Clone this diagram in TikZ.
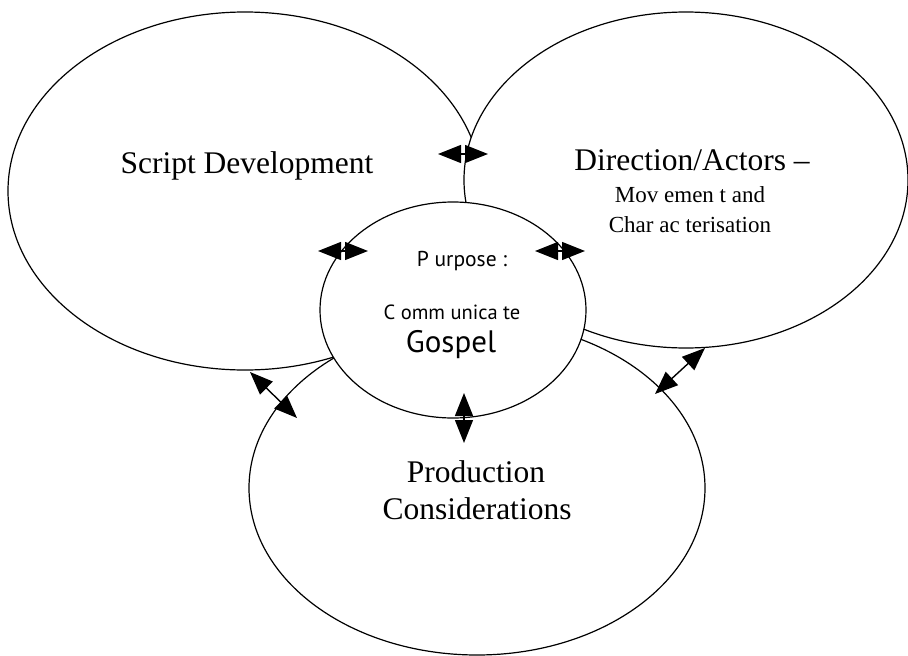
\documentclass[tikz,border=0pt]{standalone}
\usepackage{fontspec}
\setmainfont{Liberation Serif}
\newfontfamily\purposefont{PT Sans}
\usetikzlibrary{shapes.geometric,arrows.meta}
\tikzset{
  bubble/.style={ellipse, draw, fill=white, line width=1.2pt, inner sep=0pt, outer sep=0pt},
  bigtxt/.style={anchor=base, font=\fontsize{31.5}{36}\selectfont},
  midtxt/.style={anchor=base, font=\fontsize{23}{27}\selectfont},
  sanstxt/.style={anchor=base, font=\purposefont\fontsize{21.5}{25}\selectfont},
  dbl/.style={{Triangle[length=23pt,width=18pt]}-{Triangle[length=23pt,width=18pt]}, line width=1.4pt}
}
\begin{document}
\begin{tikzpicture}[x=1pt,y=-1pt]
\useasboundingbox (0,0) rectangle (908,656);
% ellipses
\node[bubble, minimum width=474pt, minimum height=358pt] (script) at (245,191) {};
\node[bubble, minimum width=444pt, minimum height=336pt] (direction) at (686,180) {};
\node[bubble, minimum width=456pt, minimum height=334pt] (production) at (477,488) {};
\node[bubble, minimum width=266pt, minimum height=216pt] (purpose) at (453,310) {};
% arrow end points
\coordinate (a1) at (438,154); \coordinate (b1) at (488,154);
\coordinate (a2) at (318,251); \coordinate (b2) at (368,251);
\coordinate (a3) at (535,251); \coordinate (b3) at (585,251);
\coordinate (a4) at (464,393); \coordinate (b4) at (464,443);
\coordinate (a5) at (250,372); \coordinate (b5) at (297,418);
\coordinate (a6) at (705,348); \coordinate (b6) at (655,394);
\draw[dbl] (a1) -- (b1);
\draw[dbl] (a2) -- (b2);
\draw[dbl] (a3) -- (b3);
\draw[dbl] (a4) -- (b4);
\draw[dbl] (a5) -- (b5);
\draw[dbl] (a6) -- (b6);
% texts
\node[bigtxt] (tscript) at (247,173) {Script Development};
\node[bigtxt] (tdir) at (692,170) {Direction/Actors –};
\node[midtxt] (tmov) at (690,202) {Mov emen t and};
\node[midtxt] (tchar) at (690,232) {Char ac terisation};
\node[sanstxt] (tpurp) at (462,266) {P urpose :};
\node[sanstxt, font=\purposefont\fontsize{20.5}{24}\selectfont] (tcomm) at (452,319) {C omm unica te};
\node[sanstxt, font=\purposefont\fontsize{31}{36}\selectfont] (tgos) at (451,352) {Gospel};
\node[bigtxt] (tprod) at (476,482) {Production};
\node[bigtxt] (tcons) at (477,519) {Considerations};
\end{tikzpicture}
\end{document}
